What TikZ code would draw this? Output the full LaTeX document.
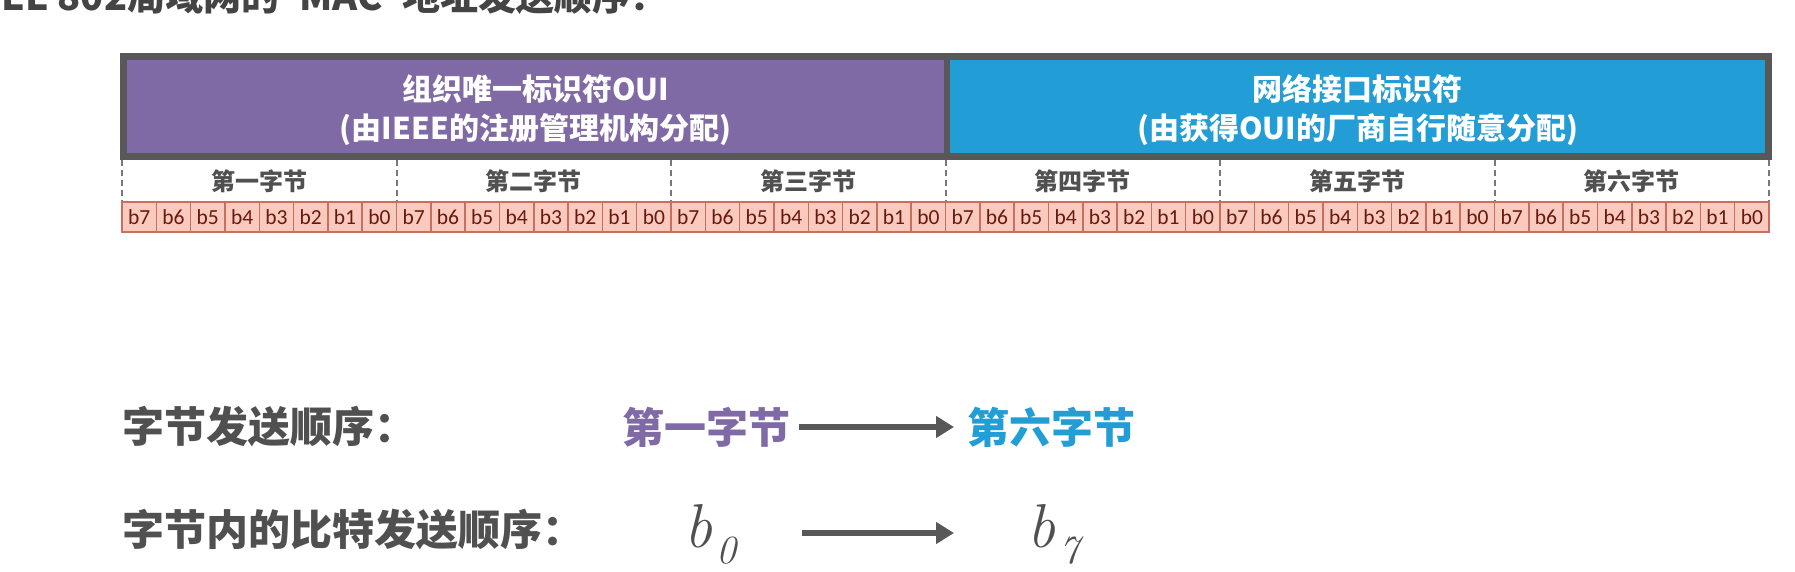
\documentclass[tikz,border=0pt]{standalone}
\usepackage{fontspec}
\newfontfamily\cjk{Noto Sans CJK SC}
\newfontfamily\lat{Carlito}
\newfontfamily\lmr{Latin Modern Roman}
\usetikzlibrary{arrows.meta}
\definecolor{bordergray}{RGB}{88,88,88}
\definecolor{titlegray}{RGB}{68,68,68}
\definecolor{labelgray}{RGB}{80,80,80}
\definecolor{ouipurple}{RGB}{128,106,165}
\definecolor{nicblue}{RGB}{34,157,214}
\definecolor{cellfill}{RGB}{250,202,190}
\definecolor{cellline}{RGB}{200,112,96}
\definecolor{celltext}{RGB}{105,25,15}
\definecolor{dashgray}{RGB}{120,120,120}
\newcommand{\bsub}[1]{{\lmr\itshape\fontsize{62}{64}\selectfont b}\hspace{4pt}\raisebox{-16pt}{\lmr\itshape\fontsize{40}{42}\selectfont #1}}
\tikzset{
  headbox/.style={inner sep=0, minimum height=93},
  headtext/.style={inner sep=0, text=white, align=center,
    font=\cjk\bfseries\fontsize{30}{39}\selectfont},
  bytelabel/.style={inner sep=0, text=labelgray, font=\cjk\bfseries\fontsize{24}{26}\selectfont},
  bitcell/.style={draw=cellline, line width=1.5pt, fill=cellfill, inner sep=0,
    minimum width=34.31, minimum height=30, text=celltext, font=\lat\fontsize{21.5}{23}\selectfont},
  dashline/.style={draw=dashgray, line width=2pt, dash pattern=on 6pt off 4pt},
  biglabel/.style={inner sep=0, anchor=west, font=\cjk\bfseries\fontsize{42}{44}\selectfont},
  bigarrow/.style={draw=bordergray, line width=6pt, -{Triangle[length=18pt,width=21pt]}},
  mathlabel/.style={inner sep=0, anchor=base west, text=labelgray}
}
\begin{document}
\begin{tikzpicture}[x=1pt,y=-1pt]
\useasboundingbox (0,0) rectangle (1795,572);
% cut-off title
\node[anchor=base west, inner sep=0, text=titlegray, font=\cjk\bfseries\fontsize{38}{40}\selectfont] (title) at (127,11) {\llap{IEEE 802}局域网的\hspace{20pt}MAC\hspace{20pt}地址发送顺序：};
% header frame
\fill[bordergray] (120,53) rectangle (1772,160);
\node[headbox, fill=ouipurple, minimum width=817] (oui) at (535.5,106.5) {};
\node[headbox, fill=nicblue, minimum width=815] (nic) at (1357.5,106.5) {};
\node[headtext] (ouitext) at (535.5,110) {组织唯一标识符OUI\\(由IEEE的注册管理机构分配)};
\node[headtext] (nictext) at (1357.5,110) {网络接口标识符\\(由获得OUI的厂商自行随意分配)};
% byte boundaries
\foreach \k in {0,...,6} {
  \coordinate (dt\k) at (122+274.5*\k,160);
  \coordinate (db\k) at (122+274.5*\k,202);
  \draw[dashline] (dt\k) -- (db\k);
}
% byte labels
\foreach \i/\t in {1/第一字节,2/第二字节,3/第三字节,4/第四字节,5/第五字节,6/第六字节} {
  \node[bytelabel] (byte\i) at (122+274.5*\i-137.25,181) {\t};
}
% bit cells
\foreach \i in {1,...,6} {
  \foreach \j in {0,...,7} {
    \pgfmathtruncatemacro{\bit}{7-\j}
    \node[bitcell] (c\i-\j) at (122+274.5*\i-274.5+34.3125*\j+17.156,217) {b\bit};
  }
}
% bottom legend
\node[biglabel, text=labelgray] (l1) at (122,427) {字节发送顺序：};
\node[biglabel, text=ouipurple] (f1) at (622,427) {第一字节};
\node[biglabel, text=nicblue] (f6) at (967,427) {第六字节};
\draw[bigarrow, shorten <=9pt, shorten >=13pt] (f1.east) -- (f6.west);
\node[biglabel, text=labelgray] (l2) at (122,530) {字节内的比特发送顺序：};
\node[mathlabel] (bz) at (684,547) {\bsub{0}};
\node[mathlabel] (bs) at (1027,547) {\bsub{7}};
\draw[bigarrow, shorten <=66pt, shorten >=73pt] (bz.east|-0,533) -- (bs.west|-0,533);
\end{tikzpicture}
\end{document}
